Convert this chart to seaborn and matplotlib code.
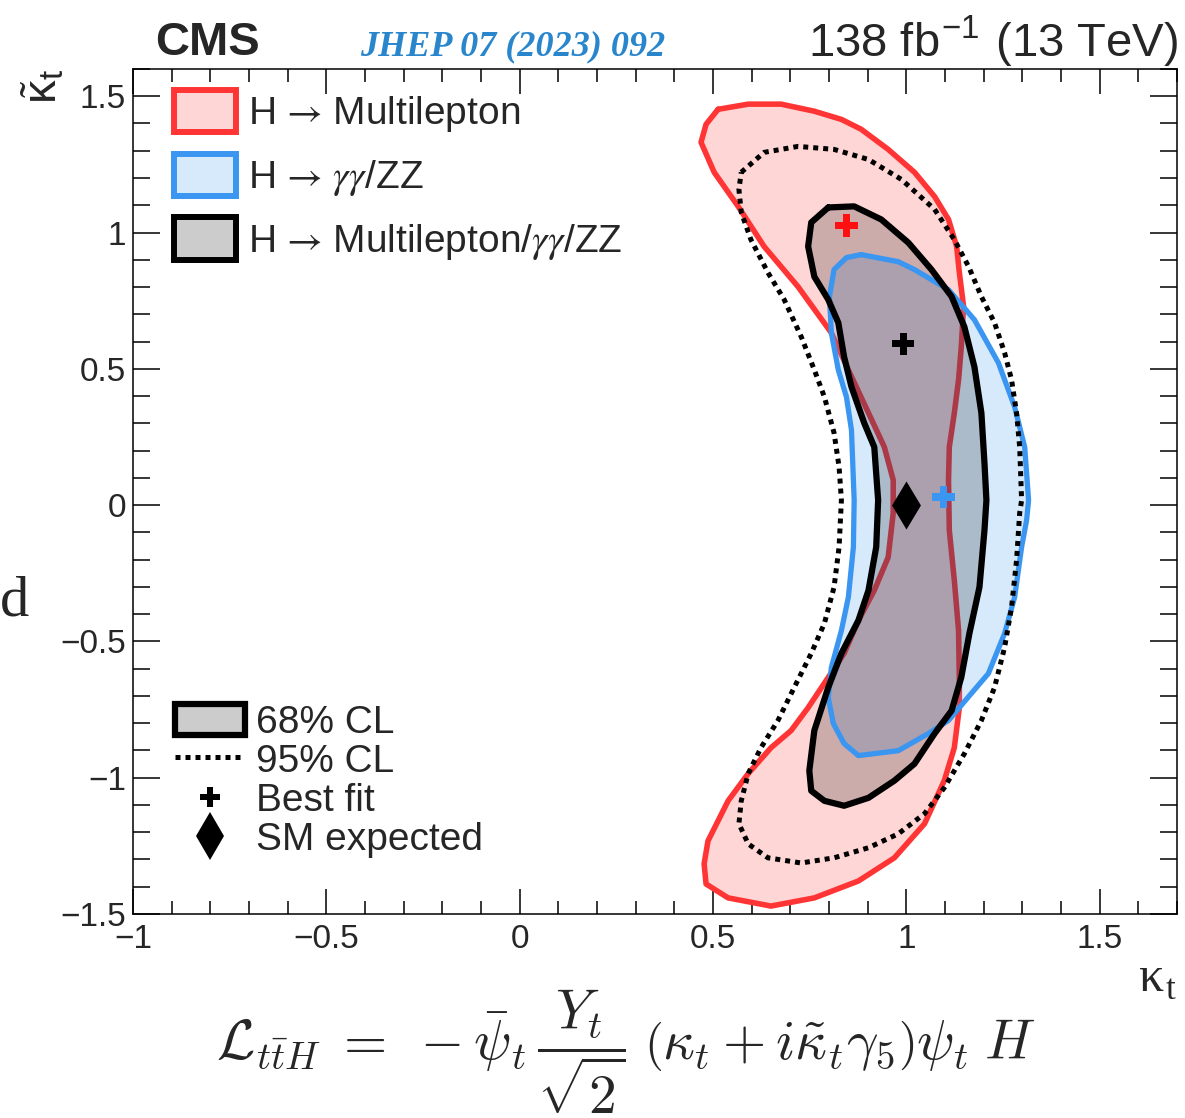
import numpy as np
import pandas as pd
import matplotlib
matplotlib.use("Agg")
import matplotlib.pyplot as plt
import seaborn as sns
from matplotlib.patches import Patch
from matplotlib.lines import Line2D
from matplotlib.font_manager import FontProperties
from matplotlib.ticker import MultipleLocator, FixedLocator, FixedFormatter

# ---------------- data (kappa_t, kappa_t tilde) ----------------
ml68_kt = [0.513, 0.591, 0.676, 0.762, 0.832, 0.883, 0.953, 1.021, 1.073, 1.109, 1.130, 1.137,
           1.148, 1.142, 1.135, 1.124, 1.111, 1.109, 1.111, 1.124, 1.135, 1.137, 1.137, 1.124,
           1.098, 1.047, 0.969, 0.876, 0.762, 0.650, 0.539, 0.482, 0.477, 0.487, 0.539, 0.591,
           0.650, 0.702, 0.746, 0.798, 0.839, 0.876, 0.917, 0.953, 0.966, 0.966, 0.943, 0.902,
           0.850, 0.806, 0.720, 0.632, 0.565, 0.503, 0.469, 0.482]
ml68_ktt = [1.452, 1.471, 1.471, 1.445, 1.415, 1.379, 1.305, 1.221, 1.132, 1.048, 0.949, 0.853,
            0.728, 0.581, 0.460, 0.338, 0.213, 0.092, -0.092, -0.276, -0.460, -0.643, -0.743, -0.890,
            -1.011, -1.169, -1.294, -1.379, -1.441, -1.471, -1.441, -1.390, -1.316, -1.232, -1.085, -0.985,
            -0.890, -0.827, -0.743, -0.632, -0.544, -0.423, -0.313, -0.191, -0.029, 0.092, 0.213, 0.338,
            0.496, 0.632, 0.801, 0.949, 1.096, 1.221, 1.331, 1.397]

gz68_kt = [0.883, 0.979, 1.021, 1.109, 1.176, 1.238, 1.280, 1.306, 1.316, 1.311, 1.298, 1.280,
           1.254, 1.212, 1.168, 1.109, 1.057, 0.979, 0.876, 0.839, 0.811, 0.798, 0.806, 0.832,
           0.850, 0.863, 0.865, 0.858, 0.845, 0.824, 0.806, 0.801, 0.813, 0.845]
gz68_ktt = [0.919, 0.893, 0.864, 0.790, 0.680, 0.522, 0.360, 0.213, 0.018, -0.055, -0.154, -0.338,
            -0.471, -0.618, -0.691, -0.790, -0.838, -0.901, -0.919, -0.875, -0.801, -0.706, -0.596, -0.460,
            -0.338, -0.154, 0.018, 0.276, 0.397, 0.496, 0.632, 0.765, 0.864, 0.908]

cb68_kt = [0.798, 0.865, 0.935, 1.005, 1.065, 1.117, 1.150, 1.176, 1.194, 1.202, 1.207, 1.202,
           1.189, 1.163, 1.142, 1.117, 1.073, 1.021, 0.969, 0.902, 0.839, 0.788, 0.754, 0.749,
           0.762, 0.798, 0.832, 0.876, 0.902, 0.922, 0.927, 0.917, 0.891, 0.858, 0.839, 0.824,
           0.798, 0.762, 0.746, 0.754]
cb68_ktt = [1.092, 1.096, 1.048, 0.963, 0.864, 0.765, 0.654, 0.507, 0.338, 0.154, 0.018, -0.092,
            -0.301, -0.471, -0.632, -0.754, -0.838, -0.949, -1.011, -1.074, -1.103, -1.085, -1.048, -0.974,
            -0.827, -0.669, -0.544, -0.423, -0.313, -0.154, 0.018, 0.213, 0.301, 0.434, 0.544, 0.669,
            0.754, 0.838, 0.949, 1.037]

cb95_kt = [0.573, 0.632, 0.720, 0.813, 0.902, 0.987, 1.073, 1.124, 1.161, 1.194, 1.228, 1.254,
           1.272, 1.285, 1.293, 1.298, 1.293, 1.285, 1.272, 1.254, 1.228, 1.194, 1.150, 1.098,
           1.047, 0.979, 0.902, 0.813, 0.728, 0.642, 0.591, 0.567, 0.573, 0.591, 0.624, 0.668,
           0.710, 0.754, 0.788, 0.813, 0.826, 0.832, 0.826, 0.813, 0.788, 0.762, 0.728, 0.684,
           0.642, 0.598, 0.573, 0.567]
cb95_ktt = [1.221, 1.294, 1.316, 1.305, 1.268, 1.195, 1.085, 0.974, 0.875, 0.765, 0.669, 0.559,
            0.460, 0.338, 0.213, 0.018, -0.029, -0.202, -0.375, -0.522, -0.669, -0.790, -0.912, -1.037,
            -1.132, -1.206, -1.257, -1.294, -1.313, -1.294, -1.243, -1.169, -1.085, -0.985, -0.890, -0.790,
            -0.669, -0.544, -0.434, -0.301, -0.154, 0.018, 0.140, 0.265, 0.397, 0.496, 0.618, 0.754,
            0.853, 0.974, 1.074, 1.158]

bestfit_kt = [0.845, 1.096, 0.992]
bestfit_ktt = [1.026, 0.029, 0.592]
sm_kt = [1.0]
sm_ktt = [0.0]

x_ticks = [-1, -0.5, 0, 0.5, 1, 1.5]
x_ticklabels = ["\u22121", "\u22120.5", "0", "0.5", "1", "1.5"]
y_ticks = [-1.5, -1, -0.5, 0, 0.5, 1, 1.5]
y_ticklabels = ["\u22121.5", "\u22121", "\u22120.5", "0", "0.5", "1", "1.5"]

legend1_labels = [r"H$\,\rightarrow\,$Multilepton", r"H$\,\rightarrow\,\gamma\gamma$/ZZ",
                  r"H$\,\rightarrow\,$Multilepton/$\gamma\gamma$/ZZ"]
legend2_labels = ["68% CL", "95% CL", "Best fit", "SM expected"]

# ---------------- style ----------------
sns.set_style("ticks")
plt.rcParams["font.family"] = ["Liberation Sans", "DejaVu Sans"]
plt.rcParams["mathtext.fontset"] = "cm"
plt.rcParams["axes.unicode_minus"] = True

RED = "#ff3535"
BLUE = "#3a96f0"
RED_FILL = (1.0, 0.21, 0.21, 0.2)
BLUE_FILL = (0.23, 0.59, 0.94, 0.2)
BLK_FILL = (0.0, 0.0, 0.0, 0.2)
DOT = (0, (1.0, 1.0))

fig = plt.figure(figsize=(11.85, 11.18), dpi=100)
ax = fig.add_axes([0.1122, 0.1825, 0.8811, 0.7558])


def closed(a):
    return list(a) + [a[0]]


def outline(xs, ys, color, lw, ls="-", z=3):
    df = pd.DataFrame({"kt": closed(xs), "ktt": closed(ys)})
    sns.lineplot(data=df, x="kt", y="ktt", sort=False, estimator=None, color=color,
                 lw=lw, linestyle=ls, ax=ax, zorder=z, legend=False)


# multilepton
ax.fill(ml68_kt, ml68_ktt, color=RED_FILL, lw=0, zorder=1)
outline(ml68_kt, ml68_ktt, RED, 4.0, z=1.5)
# gamma gamma / ZZ
ax.fill(gz68_kt, gz68_ktt, color=BLUE_FILL, lw=0, zorder=2)
# combined
ax.fill(cb68_kt, cb68_ktt, color=BLK_FILL, lw=0, zorder=2.5)
outline(gz68_kt, gz68_ktt, BLUE, 3.8, z=3)
outline(cb68_kt, cb68_ktt, "black", 4.5, z=4)
outline(cb95_kt, cb95_ktt, "black", 3.6, ls=DOT, z=4)

# best fits & SM
sns.scatterplot(x=bestfit_kt, y=bestfit_ktt, hue=["ml", "gz", "cb"],
                palette={"ml": "#ff1010", "gz": BLUE, "cb": "black"}, marker="P", s=260,
                linewidth=0, ax=ax, zorder=6, legend=False)
sns.scatterplot(x=sm_kt, y=sm_ktt, marker="d", s=600, color="black", linewidth=0,
                ax=ax, zorder=6, legend=False)

# axes
ax.set_xlim(-1, 1.7)
ax.set_ylim(-1.5, 1.6)
ax.set_xlabel("")
ax.set_ylabel("")
ax.xaxis.set_major_locator(FixedLocator(x_ticks))
ax.xaxis.set_major_formatter(FixedFormatter(x_ticklabels))
ax.yaxis.set_major_locator(FixedLocator(y_ticks))
ax.yaxis.set_major_formatter(FixedFormatter(y_ticklabels))
ax.xaxis.set_minor_locator(MultipleLocator(0.1))
ax.yaxis.set_minor_locator(MultipleLocator(0.1))
ax.tick_params(which="both", direction="in", top=True, right=True, width=1.1, color="black")
ax.tick_params(axis="x", which="major", length=18, pad=7, labelsize=24)
ax.tick_params(axis="x", which="minor", length=9.4)
ax.tick_params(axis="y", which="major", length=19.5, pad=5, labelsize=24)
ax.tick_params(axis="y", which="minor", length=12.2)
for s in ax.spines.values():
    s.set_linewidth(1.1)
    s.set_color("black")
    s.set_visible(True)

# legends
fp = FontProperties(family=["Liberation Sans", "DejaVu Sans"], size=28, math_fontfamily="stix")
h1 = [Patch(facecolor=RED_FILL, edgecolor=RED, lw=4.3),
      Patch(facecolor=BLUE_FILL, edgecolor=BLUE, lw=4.3),
      Patch(facecolor=BLK_FILL, edgecolor="black", lw=4.3)]
leg1 = ax.legend(h1, legend1_labels, loc="upper left", bbox_to_anchor=(0.039, 0.975),
                 frameon=False, prop=fp, handlelength=1.6, handleheight=1.3,
                 handletextpad=0.3, labelspacing=0.5, borderpad=0, borderaxespad=0)
ax.add_artist(leg1)
h2 = [Patch(facecolor=BLK_FILL, edgecolor="black", lw=4.5),
      Line2D([], [], color="black", lw=3.6, ls=DOT),
      Line2D([], [], color="black", marker="P", ms=15, ls="", mew=0),
      Line2D([], [], color="black", marker="d", ms=24, ls="", mew=0)]
fp2 = FontProperties(family=["Liberation Sans", "DejaVu Sans"], size=28)
ax.legend(h2, legend2_labels, loc="upper left", bbox_to_anchor=(0.040, 0.249),
          frameon=False, prop=fp2, handlelength=1.8, handleheight=0.85,
          handletextpad=0.3, labelspacing=0.06, borderpad=0, borderaxespad=0)

# texts
W, H = 1185.0, 1118.0
def fx(px):
    return px / W
def fy(py):
    return 1 - py / H

fig.text(fx(155), fy(55), "CMS", fontsize=34, fontweight="bold", ha="left", va="baseline")
fig.text(fx(360), fy(55), "JHEP 07 (2023) 092", fontsize=26, fontweight="bold",
         style="italic", family="Liberation Serif", color="#2a86cc", ha="left", va="baseline")
fig.text(fx(1178), fy(56), r"138 fb$^{\mathregular{-1}}$ (13 TeV)", fontsize=34,
         ha="right", va="baseline")
fig.text(fx(1177), fy(990), "\u03ba$_{\\mathregular{t}}$", fontsize=36, family="Liberation Serif",
         ha="right", va="baseline")
fig.text(fx(45), fy(69), r"$\tilde{\mathregular{\kappa}}_{\mathregular{t}}$", fontsize=34,
         rotation=90, ha="center", va="top", math_fontfamily="stix")
fig.text(fx(0), fy(615), "d", fontsize=42, family="Liberation Serif", ha="left", va="baseline")
fig.text(fx(626), fy(1052),
         r"$\mathcal{L}_{t\bar{t}H}\;=\;-\bar{\psi}_t\,\dfrac{Y_t}{\sqrt{2}}\;\left(\kappa_t+i\tilde{\kappa}_t\gamma_5\right)\psi_t\;H$",
         fontsize=40, ha="center", va="center")

fig.savefig("out.png", dpi=100)
